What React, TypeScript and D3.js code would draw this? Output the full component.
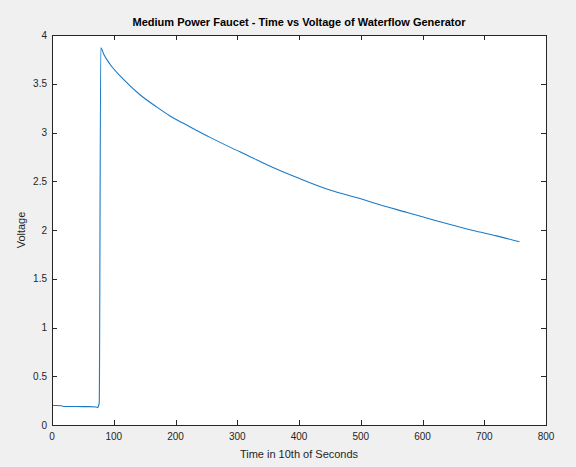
import React, { useEffect, useRef } from 'react';
import * as d3 from 'd3';

// values
const times = [0, 8, 15, 18, 40, 60, 72, 74, 75.5, 76.5, 79, 84, 94, 115, 142, 170, 191, 223, 256, 288, 320, 348, 400, 450, 500, 520, 575, 628, 682, 720, 757];
const volts = [0.2, 0.2, 0.198, 0.19, 0.189, 0.188, 0.185, 0.178, 0.2, 0.23, 3.87, 3.8, 3.7, 3.55, 3.39, 3.26, 3.17, 3.06, 2.95, 2.85, 2.755, 2.67, 2.53, 2.41, 2.32, 2.28, 2.18, 2.085, 1.995, 1.94, 1.88];
const xTicks = [0, 100, 200, 300, 400, 500, 600, 700, 800];
const yTicks = [0, 0.5, 1, 1.5, 2, 2.5, 3, 3.5, 4];

const title = 'Medium Power Faucet - Time vs Voltage of Waterflow Generator';
const xLabel = 'Time in 10th of Seconds';
const yLabel = 'Voltage';

export default function App() {
  const ref = useRef<SVGSVGElement>(null);

  useEffect(() => {
    const width = 576;
    const height = 467;
    const left = 52, right = 546, top = 35, bottom = 425;
    const axisColor = '#262626';
    const font = '"Liberation Sans", Arial, Helvetica, sans-serif';

    const svg = d3.select(ref.current);
    svg.selectAll('*').remove();
    svg.attr('width', width).attr('height', height);

    svg.append('rect').attr('width', width).attr('height', height).attr('fill', '#f0f0f0');

    const x = d3.scaleLinear().domain([0, 800]).range([left, right]);
    const y = d3.scaleLinear().domain([0, 4]).range([bottom, top]);

    svg.append('rect')
      .attr('x', left).attr('y', top)
      .attr('width', right - left).attr('height', bottom - top)
      .attr('fill', '#ffffff');

    const data = times.map((t, i) => [t, volts[i]] as [number, number]);
    const line = d3.line<[number, number]>().x(d => x(d[0])).y(d => y(d[1])).curve(d3.curveMonotoneX);

    svg.append('path')
      .datum(data)
      .attr('d', line)
      .attr('fill', 'none')
      .attr('stroke', '#1a7ac6')
      .attr('stroke-width', 1.1)
      .attr('stroke-linejoin', 'round');

    const tickLen = 5;
    const ticks = svg.append('g').attr('stroke', axisColor).attr('stroke-width', 1);
    xTicks.forEach(t => {
      const px = Math.round(x(t)) + 0.5;
      ticks.append('line').attr('x1', px).attr('x2', px).attr('y1', bottom).attr('y2', bottom - tickLen);
      ticks.append('line').attr('x1', px).attr('x2', px).attr('y1', top).attr('y2', top + tickLen);
    });
    yTicks.forEach(v => {
      const py = Math.round(y(v)) + 0.5;
      ticks.append('line').attr('x1', left).attr('x2', left + tickLen).attr('y1', py).attr('y2', py);
      ticks.append('line').attr('x1', right).attr('x2', right - tickLen).attr('y1', py).attr('y2', py);
    });

    svg.append('rect')
      .attr('x', left + 0.5).attr('y', top + 0.5)
      .attr('width', right - left).attr('height', bottom - top)
      .attr('fill', 'none')
      .attr('stroke', axisColor)
      .attr('stroke-width', 1);

    svg.append('g')
      .selectAll('text')
      .data(xTicks)
      .join('text')
      .attr('x', d => x(d))
      .attr('y', bottom + 15)
      .attr('text-anchor', 'middle')
      .attr('font-family', font)
      .attr('font-size', 10)
      .attr('fill', axisColor)
      .text(d => d);

    svg.append('g')
      .selectAll('text')
      .data(yTicks)
      .join('text')
      .attr('x', left - 5)
      .attr('y', d => y(d) + 3.5)
      .attr('text-anchor', 'end')
      .attr('font-family', font)
      .attr('font-size', 10)
      .attr('fill', axisColor)
      .text(d => d);

    svg.append('text')
      .attr('x', (left + right) / 2)
      .attr('y', 26)
      .attr('text-anchor', 'middle')
      .attr('font-family', font)
      .attr('font-size', 11)
      .attr('font-weight', 'bold')
      .attr('fill', '#000000')
      .text(title);

    svg.append('text')
      .attr('x', (left + right) / 2)
      .attr('y', 458)
      .attr('text-anchor', 'middle')
      .attr('font-family', font)
      .attr('font-size', 11)
      .attr('fill', axisColor)
      .text(xLabel);

    svg.append('text')
      .attr('transform', `translate(25,${(top + bottom) / 2}) rotate(-90)`)
      .attr('text-anchor', 'middle')
      .attr('font-family', font)
      .attr('font-size', 11)
      .attr('fill', axisColor)
      .text(yLabel);
  }, []);

  return <svg ref={ref} style={{ position: 'absolute', left: 0, top: 0 }} />;
}
